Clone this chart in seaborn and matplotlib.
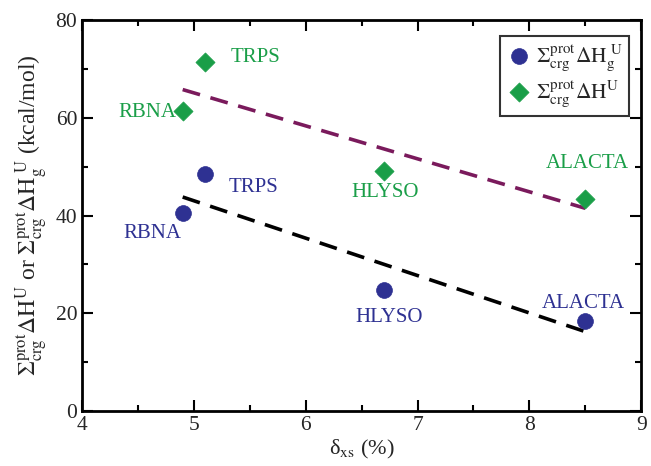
import numpy as np
import pandas as pd
import seaborn as sns
import matplotlib
matplotlib.use("Agg")
import matplotlib.pyplot as plt
from matplotlib.ticker import MultipleLocator

proteins = ["RBNA", "TRPS", "HLYSO", "ALACTA"]
delta_xs = [4.9, 5.1, 6.7, 8.5]
dh_g = [40.5, 48.5, 24.8, 18.5]      # blue circles
dh = [61.3, 71.5, 49.2, 43.3]        # green diamonds

blue_lbl_x = [4.63, 5.53, 6.75, 8.48]
blue_lbl_y = [36.4, 45.8, 19.2, 22.1]
green_lbl_x = [4.58, 5.55, 6.71, 8.52]
green_lbl_y = [61.1, 72.4, 44.8, 50.7]

sns.set_theme(style="ticks")
plt.rcParams["font.family"] = ["Liberation Serif", "DejaVu Serif"]
plt.rcParams["mathtext.fontset"] = "stix"

BLUE = "#2e3192"
GREEN = "#1a9e48"
PURPLE = "#7a1a5c"

df = pd.DataFrame({"x": delta_xs, "g": dh_g, "u": dh})

fig = plt.figure(figsize=(6.51, 4.66), dpi=100)
ax = fig.add_axes([0.126, 0.118, 0.859, 0.839])

sns.regplot(data=df, x="x", y="g", ax=ax, ci=None, scatter=False,
            line_kws=dict(color="black", lw=2.6, dashes=(5, 3)))
sns.regplot(data=df, x="x", y="u", ax=ax, ci=None, scatter=False,
            line_kws=dict(color=PURPLE, lw=2.6, dashes=(5, 3)))

sns.scatterplot(data=df, x="x", y="g", ax=ax, marker="o", s=130, color=BLUE,
                edgecolor=BLUE, linewidth=0.5, zorder=5,
                label=r"$\Sigma^{\rm prot}_{\rm crg}\Delta {\rm H}_{\rm g}^{\ \rm U}$")
sns.scatterplot(data=df, x="x", y="u", ax=ax, marker="D", s=95, color=GREEN,
                edgecolor=GREEN, linewidth=0.5, zorder=5,
                label=r"$\Sigma^{\rm prot}_{\rm crg}\Delta {\rm H}^{\rm U}$")

for name, lx, ly in zip(proteins, blue_lbl_x, blue_lbl_y):
    ax.text(lx, ly, name, color=BLUE, fontsize=15, ha="center", va="center")
for name, lx, ly in zip(proteins, green_lbl_x, green_lbl_y):
    ax.text(lx, ly, name, color=GREEN, fontsize=15, ha="center", va="center")

ax.set_xlim(4, 9)
ax.set_ylim(0, 80)
ax.xaxis.set_major_locator(MultipleLocator(1))
ax.xaxis.set_minor_locator(MultipleLocator(0.5))
ax.yaxis.set_major_locator(MultipleLocator(20))
ax.yaxis.set_minor_locator(MultipleLocator(10))
ax.tick_params(which="both", direction="in", top=True, right=True,
               labelsize=15.5, width=1.5, color="black")
ax.tick_params(which="major", length=8)
ax.tick_params(which="minor", length=4)
for s in ax.spines.values():
    s.set_linewidth(2)
    s.set_color("black")

ax.set_xlabel("δ$_{\\rm xs}$ (%)", fontsize=16, labelpad=2)
ax.set_ylabel(r"$\Sigma^{\rm prot}_{\rm crg}\Delta {\rm H}^{\rm U}$ or "
              r"$\Sigma^{\rm prot}_{\rm crg}\Delta {\rm H}_{\rm g}^{\ \rm U}$ (kcal/mol)",
              fontsize=17, labelpad=4)

leg = ax.legend(loc="upper right", bbox_to_anchor=(0.979, 0.959), fontsize=15.5,
                frameon=True, fancybox=False, handletextpad=0.2,
                borderpad=0.3, labelspacing=0.25, handlelength=1.2,
                borderaxespad=0)
leg.get_frame().set_edgecolor("black")
leg.get_frame().set_linewidth(1.5)

fig.savefig("out.png", dpi=100)
